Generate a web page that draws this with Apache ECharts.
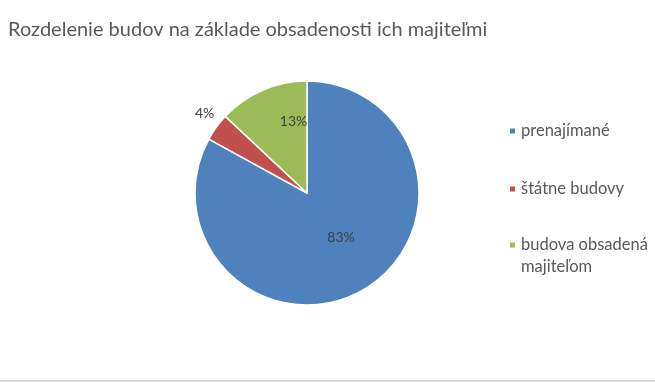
<!DOCTYPE html>
<html><head><meta charset="utf-8">
<script src="https://cdn.jsdelivr.net/npm/echarts@6/dist/echarts.min.js"></script>
<style>html,body{margin:0;padding:0;background:#fff}#c{width:655px;height:382px}</style>
</head><body><div id="c"></div>
<script>
const titleText = 'Rozdelenie budov na základe obsadenosti ich majiteľmi';
const categories = ['prenajímané', 'štátne budovy', 'budova obsadená majiteľom'];
const values = [83, 4, 13];
const colors = ['#4F81BD', '#C0504D', '#9BBB59'];
const FONT = 'Lato';

const chart = echarts.init(document.getElementById('c'), null, {renderer: 'canvas'});
const legendTops = [116, 174, 207];
const legends = categories.map((name, i) => ({
  orient: 'vertical', left: 503, top: legendTops[i],
  itemWidth: 7, itemHeight: 7, icon: 'rect',
  data: [name],
  formatter: n => n === 'budova obsadená majiteľom' ? ' \nbudova obsadená\nmajiteľom' : n,
  textStyle: i === 2
    ? {fontFamily: FONT, fontSize: 16.5, color: '#595959', lineHeight: 22}
    : {fontFamily: FONT, fontSize: 16.5, color: '#595959', lineHeight: 20}
}));

chart.setOption({
  animation: false,
  color: colors,
  title: {
    text: titleText, left: 3, top: 15,
    textStyle: {fontFamily: FONT, fontSize: 20, fontWeight: 'normal', color: '#595959'}
  },
  legend: legends,
  graphic: [{type: 'rect', shape: {x: 0, y: 380, width: 655, height: 2}, style: {fill: '#d9d9d9'}}],
  series: [{
    type: 'pie',
    center: [307, 193],
    radius: [0, 112],
    startAngle: 90,
    clockwise: true,
    itemStyle: {borderColor: '#fff', borderWidth: 1.5},
    label: {show: true, position: 'inside', formatter: '{c}%', fontFamily: FONT, fontSize: 14, color: '#404040'},
    labelLine: {show: false, length: 10, length2: 0},
    labelLayout: function (p) {
      if (p.dataIndex === 2) return {dx: 10, dy: -17};
      if (p.dataIndex === 1) return {dx: 11, dy: -8};
      return {dx: 4, dy: -6};
    },
    emphasis: {disabled: true},
    data: categories.map((n, i) => i === 1
      ? {name: n, value: values[i], label: {position: 'outside'}, labelLine: {show: false}}
      : {name: n, value: values[i]})
  }]
});
</script></body></html>
